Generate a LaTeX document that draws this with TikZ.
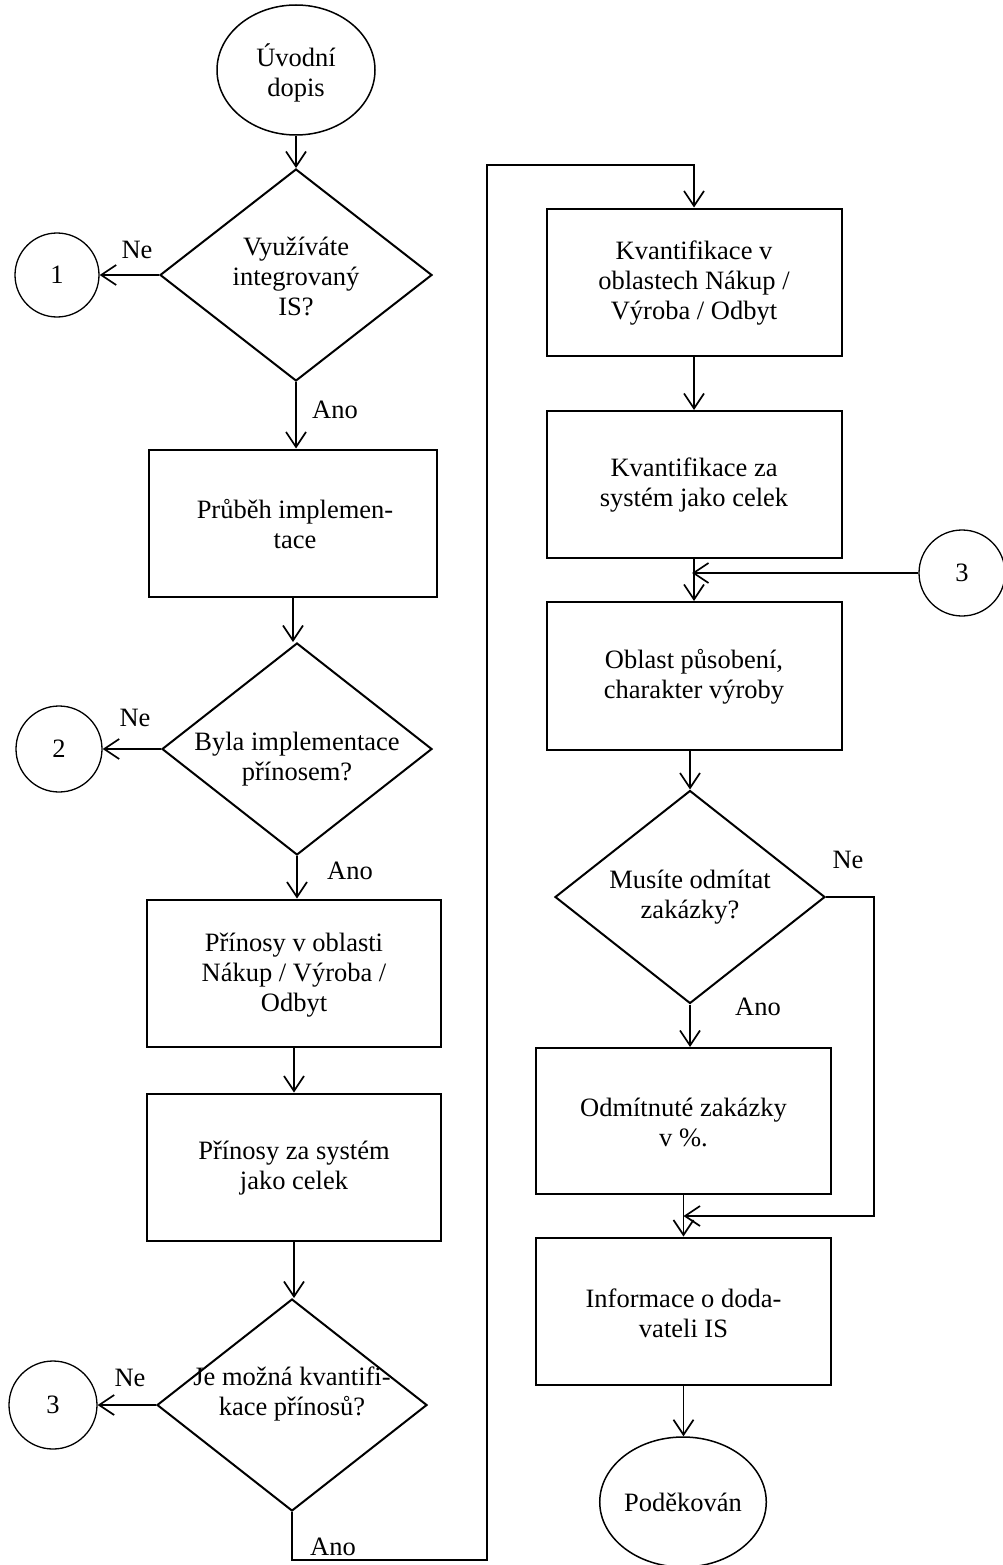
\documentclass[tikz,border=0pt]{standalone}
\usepackage{fontspec}
\setmainfont{Liberation Serif}
\usetikzlibrary{shapes.geometric,arrows.meta}
\begin{document}
\begin{tikzpicture}[x=1pt,y=-1pt,
  every node/.style={font=\fontsize{26.5}{30}\selectfont},
  arr/.style={line width=1.7pt,-{Straight Barb[length=15pt,width=20pt]}},
  shp/.style={draw,line width=2pt,inner sep=0pt},
  box/.style={shp,rectangle,minimum width=295pt},
  dia/.style={shp,diamond,minimum width=270pt,minimum height=212pt},
  term/.style={shp,ellipse,line width=1.5pt,minimum width=158pt,minimum height=130pt},
  conn/.style={draw,line width=1.3pt,circle,inner sep=0pt},
  txt/.style={align=center,inner sep=0pt},
  lbl/.style={inner sep=0pt}]
\useasboundingbox (0,0) rectangle (1003,1565);

% left column
\node[term] (start) at (296,70) {};
\node[txt] (startT) at (296,73) {Úvodní\\dopis};
\node[dia,minimum width=272pt] (d1) at (296,275) {};
\node[txt] (d1T) at (296,276) {Využíváte\\integrovaný\\IS?};
\node[box,minimum width=288pt,minimum height=147pt] (pr) at (293,523) {};
\node[txt] (prT) at (295,524) {Průběh implemen-\\tace};
\node[dia] (d2) at (297,749) {};
\node[txt] (d2T) at (297,759) {Byla implementace\\přínosem?};
\node[box,minimum width=294pt,minimum height=147pt] (pn) at (294,973) {};
\node[txt] (pnT) at (294,975) {Přínosy v oblasti\\Nákup / Výroba /\\Odbyt};
\node[box,minimum width=294pt,minimum height=147pt] (pz) at (294,1167) {};
\node[txt] (pzT) at (294,1168) {Přínosy za systém\\jako celek};
\node[dia] (d3) at (292,1405) {};
\node[txt] (d3T) at (292,1394) {Je možná kvantifi-\\kace přínosů?};

% connectors on the left
\node[conn,minimum size=84pt] (c1) at (57,275) {1};
\node[conn,minimum size=86pt] (c2) at (59,749) {2};
\node[conn,minimum size=88pt] (c3) at (53,1405) {3};

% right column
\node[box,minimum height=147pt] (kv1) at (694,282) {};
\node[txt] (kv1T) at (694,283) {Kvantifikace v\\oblastech Nákup /\\Výroba / Odbyt};
\node[box,minimum height=147pt] (kv2) at (694,484.5) {};
\node[txt] (kv2T) at (694,485) {Kvantifikace za\\systém jako celek};
\node[conn,minimum size=86pt] (c3r) at (962,573) {3};
\node[box,minimum height=148pt] (ob) at (694,676) {};
\node[txt] (obT) at (694,677) {Oblast působení,\\charakter výroby};
\node[dia,minimum height=213pt] (d4) at (690,897) {};
\node[txt] (d4T) at (690,897) {Musíte odmítat\\zakázky?};
\node[box,minimum height=146pt] (od) at (683.5,1121) {};
\node[txt] (odT) at (683.5,1122) {Odmítnuté zakázky\\v \%.};
\node[box,minimum height=147pt] (inf) at (683.5,1311) {};
\node[txt] (infT) at (683.5,1313) {Informace o doda-\\vateli IS};
\node[term,minimum width=159pt] (end) at (683,1502) {Poděkován};

% flow, left column
\draw[arr] (start.south) -- (start.south |- d1.north);
\draw[arr] (d1.west) -- (c1.east);
\draw[arr] (d1.south) -- (d1.south |- pr.north);
\draw[arr] (pr.south) -- (pr.south |- d2.north);
\draw[arr] (d2.west) -- (c2.east);
\draw[arr] (d2.south) -- (d2.south |- pn.north);
\draw[arr] (pn.south) -- (pn.south |- pz.north);
\draw[arr] (pz.south) -- (pz.south |- d3.north);
\draw[arr] (d3.west) -- (c3.east);

% "Ano" route from the last decision to the right column
\coordinate (rb) at (487,1560);
\coordinate (rt) at (487,165);
\draw[arr] (d3.south) -- (d3.south |- rb) -- (rb) -- (rt) -- (rt -| kv1.north) -- (kv1.north);

% flow, right column
\draw[arr] (kv1.south) -- (kv1.south |- kv2.north);
\draw[arr] (kv2.south) -- (kv2.south |- ob.north);
\draw[arr] (c3r.west) -- ([xshift=-2pt]kv2.south |- c3r.west);
\draw[arr] (d4.north |- ob.south) -- (d4.north);
\draw[arr] (d4.south) -- (d4.south |- od.north);
\coordinate (m) at ([yshift=-21pt]od.south);
\draw[arr] (d4.east) -- ++(48,0) |- (m);
\draw[arr] (od.south) -- (od.south |- inf.north);
\draw[arr] (inf.south) -- (inf.south |- end.north);

% branch labels
\node[lbl] (ne1) at (137,250) {Ne};
\node[lbl] (ano1) at (335,410) {Ano};
\node[lbl] (ne2) at (135,718) {Ne};
\node[lbl] (ano2) at (350,871) {Ano};
\node[lbl] (ne3) at (130,1378) {Ne};
\node[lbl] (ano3) at (333,1547) {Ano};
\node[lbl] (ne4) at (848,860) {Ne};
\node[lbl] (ano4) at (758,1007) {Ano};
\end{tikzpicture}
\end{document}
